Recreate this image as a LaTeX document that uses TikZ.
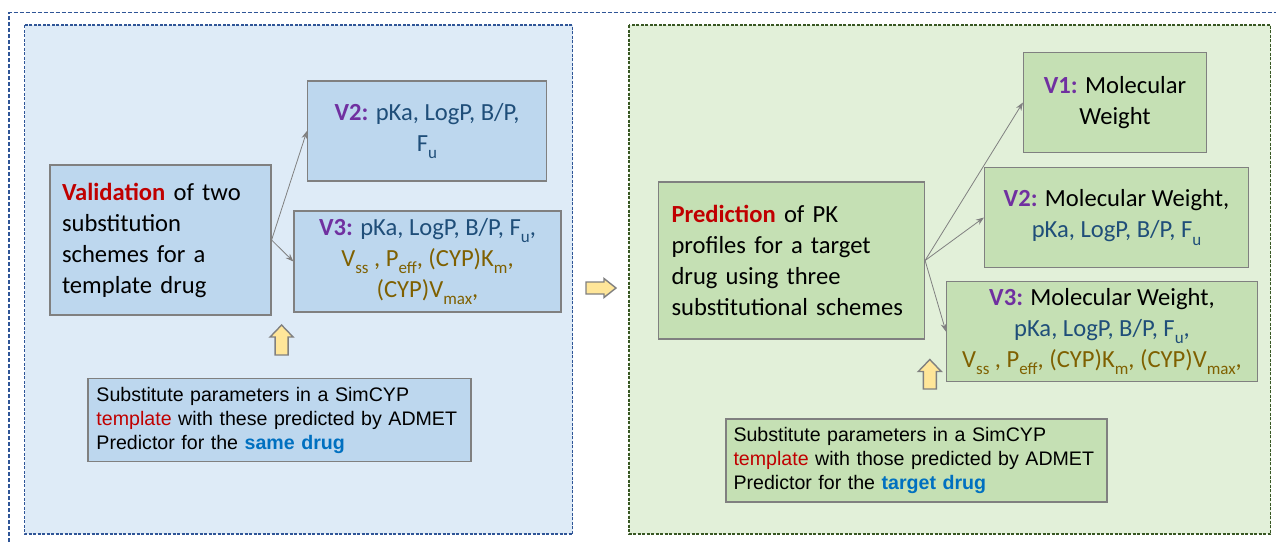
\documentclass[tikz,border=0pt]{standalone}
\usepackage{fontspec}
\setmainfont{Carlito}
\newfontfamily\notefont{Liberation Sans}
\usepackage{tikz}
\usetikzlibrary{arrows.meta}

\definecolor{panelblue}{HTML}{DEEBF7}
\definecolor{boxblue}{HTML}{BDD7EE}
\definecolor{panelgreen}{HTML}{E2F0D9}
\definecolor{boxgreen}{HTML}{C5E0B4}
\definecolor{edgeblue}{HTML}{2F5597}
\definecolor{edgegreen}{HTML}{385723}
\definecolor{darkred}{HTML}{C00000}
\definecolor{vpurple}{HTML}{7030A0}
\definecolor{parblue}{HTML}{1F4E79}
\definecolor{parbrown}{HTML}{7F6000}
\definecolor{drugblue}{HTML}{0070C0}
\definecolor{arrowfill}{HTML}{FFE699}

\tikzset{
  box/.style={draw=gray, line width=0.6pt, inner sep=0pt, align=center,
    font=\fontsize{12.3}{15.5}\selectfont},
  note/.style={draw=gray, line width=0.6pt, inner sep=0pt, align=left,
    font=\notefont\fontsize{9.8}{12}\selectfont},
  link/.style={draw=gray, line width=0.4pt, -{Stealth[length=4pt,width=3pt]}},
  blockarrow/.style={draw=gray, fill=arrowfill, line width=0.7pt, line join=miter},
}
\newcommand{\vlab}[1]{\textcolor{vpurple}{\textbf{#1}}}
\newcommand{\sub}[1]{\raisebox{-0.3em}{\fontsize{8.5}{8.5}\selectfont #1}}

\begin{document}
\begin{tikzpicture}[x=0.5pt,y=-0.5pt]
\useasboundingbox (0,0) rectangle (1276,543);

% outer frame and the two panels
\draw[edgeblue, line width=0.6pt, dash pattern=on 2pt off 1pt] (9,560) -- (9,12.7) -- (1290,12.7);
\draw[edgeblue, fill=panelblue, line width=0.6pt, dash pattern=on 1.5pt off 0.75pt] (24.5,25) rectangle (572.5,534);
\draw[edgegreen, fill=panelgreen, line width=0.6pt, dash pattern=on 1.5pt off 0.75pt] (629,25) rectangle (1270.5,534);

% validation side
\node[box, fill=boxblue, minimum width=110.5pt, minimum height=75pt, text width=98.5pt, align=left] (val) at (160.5,240)
  {\textcolor{darkred}{\textbf{Validation}} of two\\ substitution\\ schemes for a\\ template drug};
\node[box, fill=boxblue, minimum width=119.5pt, minimum height=50pt] (v2L) at (427,131)
  {\vlab{V2:} \textcolor{parblue}{pKa, LogP, B/P,}\\ \textcolor{parblue}{F\sub{u}}};
\node[box, fill=boxblue, minimum width=133.5pt, minimum height=50.5pt] (v3L) at (427.5,261.5)
  {\vlab{V3:} \textcolor{parblue}{pKa, LogP, B/P, F\sub{u},}\\
   \textcolor{parbrown}{V\sub{ss} , P\sub{eff}, (CYP)K\sub{m},}\\
   \textcolor{parbrown}{(CYP)V\sub{max},}};
\node[note, fill=boxblue, minimum width=191.5pt, minimum height=41.5pt, text width=183pt] (noteL) at (279.5,420)
  {Substitute parameters in a SimCYP\\
   \textcolor{darkred}{template} with these predicted by ADMET\\
   Predictor for the \textcolor{drugblue}{\textbf{same drug}}};
\draw[blockarrow] (281.6,325) -- ++(11.5,12) -- ++(-5,0) -- ++(0,18) -- ++(-13,0) -- ++(0,-18) -- ++(-5,0) -- cycle;

\draw[link] (val.east) -- (v2L.west);
\draw[link] (val.east) -- (v3L.west);

% arrow between the panels
\draw[blockarrow] (616,288) -- ++(-12,-9.5) -- ++(0,3.5) -- ++(-18,0) -- ++(0,12) -- ++(18,0) -- ++(0,3.5) -- cycle;

% prediction side
\node[box, fill=boxgreen, minimum width=133pt, minimum height=78.5pt, text width=120pt, align=left] (pred) at (791.5,260.5)
  {\textcolor{darkred}{\textbf{Prediction}} of PK\\ profiles for a target\\ drug using three\\ substitutional schemes};
\node[box, fill=boxgreen, minimum width=91.5pt, minimum height=50pt] (v1R) at (1115,102.5)
  {\vlab{V1:} Molecular\\ Weight};
\node[box, fill=boxgreen, minimum width=132pt, minimum height=50pt] (v2R) at (1116.5,217.5)
  {\vlab{V2:} Molecular Weight,\\ \textcolor{parblue}{pKa, LogP, B/P, F\sub{u}}};
\node[box, fill=boxgreen, minimum width=155.5pt, minimum height=50pt] (v3R) at (1102,331.5)
  {\vlab{V3:} Molecular Weight,\\
   \textcolor{parblue}{pKa, LogP, B/P, F\sub{u},}\\
   \textcolor{parbrown}{V\sub{ss} , P\sub{eff}, (CYP)K\sub{m}, (CYP)V\sub{max},}};
\node[note, fill=boxgreen, minimum width=190.5pt, minimum height=41.5pt, text width=183pt] (noteR) at (916.5,460.5)
  {Substitute parameters in a SimCYP\\
   \textcolor{darkred}{template} with those predicted by ADMET\\
   Predictor for the \textcolor{drugblue}{\textbf{target drug}}};
\draw[blockarrow] (929.8,359.5) -- ++(11.5,12) -- ++(-5,0) -- ++(0,17.5) -- ++(-13,0) -- ++(0,-17.5) -- ++(-5,0) -- cycle;

\draw[link] (pred.east) -- (v1R.west);
\draw[link] (pred.east) -- (v2R.west);
\draw[link] (pred.east) -- (v3R.west);

\end{tikzpicture}
\end{document}
